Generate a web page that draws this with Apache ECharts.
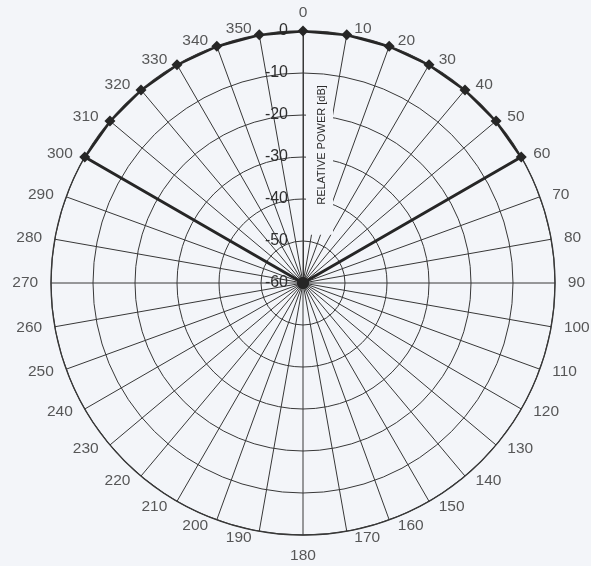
<!DOCTYPE html>
<html>
<head>
<meta charset="utf-8">
<script src="https://cdn.jsdelivr.net/npm/echarts@6/dist/echarts.min.js"></script>
<style>
  html, body { margin: 0; padding: 0; background: #f3f5f9; }
  #chart { width: 591px; height: 566px; }
</style>
</head>
<body>
<div id="chart"></div>
<script>
// Beam pattern: relative power (dB) versus bearing (degrees)
const patternAngles = [300, 310, 320, 330, 340, 350, 0, 10, 20, 30, 40, 50, 60];
const patternPower  = [0, 0, 0, 0, 0, 0, 0, 0, 0, 0, 0, 0, 0];
const floorPower = -60;

// Axis ticks
const bearingTicks = [0, 10, 20, 30, 40, 50, 60, 70, 80, 90, 100, 110, 120, 130, 140, 150, 160, 170,
                      180, 190, 200, 210, 220, 230, 240, 250, 260, 270, 280, 290, 300, 310, 320, 330, 340, 350];
const powerTicks = [-60, -50, -40, -30, -20, -10, 0];

const INK = '#2e2e2e';
const GRID = '#383838';
const BG = '#f3f5f9';
const FONT = '"Liberation Sans", Arial, sans-serif';

// Pattern outline: from the centre out to the first bearing, along the rim, and back to the centre
const patternData = [];
patternData.push({ value: [floorPower, patternAngles[0]], symbol: 'circle', symbolSize: 12 });
patternAngles.forEach((a, i) => patternData.push({ value: [patternPower[i], a] }));
patternData.push({ value: [floorPower, patternAngles[patternAngles.length - 1]], symbol: 'circle', symbolSize: 12 });

// Bearing labels sit just outside the rim, pushed sideways like a plotting sheet
const rimLabelLevel = 1.5;
const bearingLabelData = bearingTicks.map(a => ({
  value: [rimLabelLevel, a],
  label: {
    position: a === 0 ? 'top' : a === 180 ? 'bottom' : (a < 180 ? 'right' : 'left'),
    distance: a === 0 ? 3 : 6
  }
}));

const chart = echarts.init(document.getElementById('chart'), null, { renderer: 'canvas' });
chart.setOption({
  backgroundColor: BG,
  animation: false,
  polar: { center: [303, 283], radius: 252 },
  angleAxis: {
    type: 'value',
    min: 0, max: 360, interval: 10,
    startAngle: 90, clockwise: true,
    axisLine: { show: true, lineStyle: { color: GRID, width: 1.3 } },
    axisTick: { show: false },
    axisLabel: { show: false },
    splitLine: { show: true, lineStyle: { color: GRID, width: 1 } }
  },
  radiusAxis: {
    type: 'value',
    min: powerTicks[0], max: powerTicks[powerTicks.length - 1], interval: 10,
    axisLine: { show: true, lineStyle: { color: GRID, width: 1 } },
    axisTick: { show: false },
    splitLine: { show: true, lineStyle: { color: GRID, width: 1 } },
    axisLabel: { show: true, margin: 15, color: INK, fontSize: 16, fontFamily: FONT },
    name: 'RELATIVE POWER [dB]',
    nameLocation: 'middle',
    nameGap: 3,
    nameTextStyle: {
      color: INK, fontSize: 11, fontFamily: FONT,
      backgroundColor: BG,
      padding: [10, 6, 6, 30]
    },
    z: 5
  },
  series: [
    {
      type: 'line',
      coordinateSystem: 'polar',
      data: patternData,
      clip: false,
      symbol: 'diamond',
      symbolSize: 11,
      lineStyle: { color: '#262626', width: 3 },
      itemStyle: { color: '#262626' },
      z: 10,
      silent: true
    },
    {
      type: 'scatter',
      coordinateSystem: 'polar',
      data: bearingLabelData,
      clip: false,
      symbolSize: 1,
      itemStyle: { color: 'rgba(0,0,0,0)' },
      label: {
        show: true,
        distance: 6,
        color: INK,
        fontSize: 15.5,
        fontFamily: FONT,
        formatter: p => String(p.value[1])
      },
      silent: true,
      z: 6
    }
  ]
});
</script>
</body>
</html>
